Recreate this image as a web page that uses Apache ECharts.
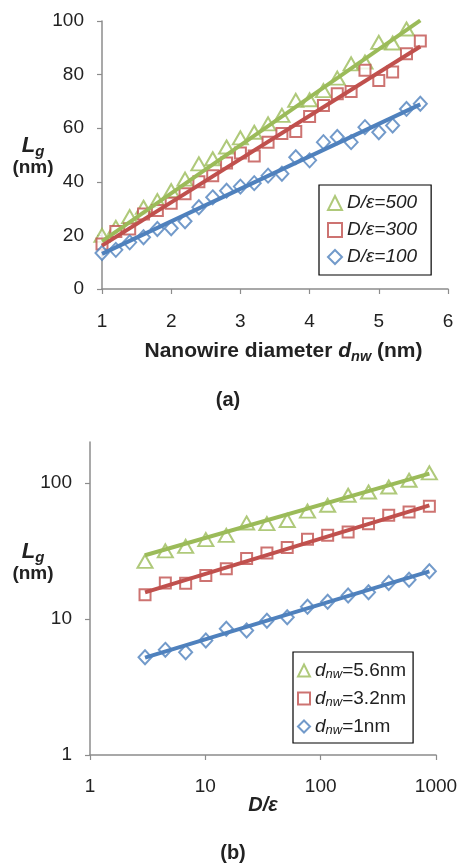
<!DOCTYPE html>
<html><head><meta charset="utf-8">
<script src="https://cdn.jsdelivr.net/npm/echarts@6/dist/echarts.min.js"></script>
<style>html,body{margin:0;padding:0;background:#fff}#c{width:460px;height:863px}</style>
</head><body><div id="c"></div>
<script>
// ---------- data (a) ----------
const dnw = [1.0,1.2,1.4,1.6,1.8,2.0,2.2,2.4,2.6,2.8,3.0,3.2,3.4,3.6,3.8,4.0,4.2,4.4,4.6,4.8,5.0,5.2,5.4,5.6];
const lgD500 = [20,23,27,30.5,33,36.7,41,46.7,48.6,53,56.4,58.5,61.6,64.8,70.4,70.6,74,78.7,84,84.7,92,91.8,97,100.5];
const lgD300 = [16.8,21.5,22.4,28,29.3,32,35.5,40,42.3,47,50.7,49.6,54.8,58,58.8,64.4,68.5,72.9,73.7,81.6,77.8,81,87.8,92.5];
const lgD100 = [13.4,14.6,17.4,19.3,22.4,22.7,25.3,30.5,34.2,36.7,38.2,39.5,42.3,43,49.2,48,54.8,56.7,54.8,60.4,58.5,61,67.2,69.1];
const fitX_a = [1, 5.6];
const fitD500 = [17.8, 100.2];
const fitD300 = [16.2, 90.5];
const fitD100 = [13.1, 68.9];
const namesA = ['D/ε=500','D/ε=300','D/ε=100'];
const xTicksA = [1,2,3,4,5,6];
const yTicksA = [0,20,40,60,80,100];

// ---------- data (b) ----------
const dEps = [3,4.5,6.75,10.1,15.2,22.8,34.2,51.3,76.9,115,173,260,389,584,876];
const lgN56 = [26.5,31.7,34.2,38.3,41.2,50.8,50.2,53,62,68.5,81.2,85.8,93.4,104.7,118.5];
const lgN32 = [15.1,18.4,18.3,20.9,23.4,27.8,30.5,33.5,38.5,41.2,43.6,50.2,57.8,61.2,67.3];
const lgN10 = [5.23,5.93,5.7,6.95,8.48,8.23,9.7,10.3,12.3,13.4,14.9,15.7,18.4,19.4,22.4];
const fitX_b = [3, 876];
const fitN56 = [29.4, 117];
const fitN32 = [15.7, 68.5];
const fitN10 = [5.2, 22.4];
const namesB = ['dnw=5.6nm','dnw=3.2nm','dnw=1nm'];
const labelsB = ['5.6nm','3.2nm','1nm'];
const xTicksB = [1,10,100,1000];
const yTicksB = [1,10,100];

const GREEN = '#9BBB59', RED = '#C0504D', BLUE = '#4F81BD';
const FONT = '"Liberation Sans", Arial, sans-serif';
const AX = '#8c8c8c', TXT = '#222';

const zip = (xs, ys) => xs.map((x, i) => [x, ys[i]]);

const axisCommon = {
  axisLine: { onZero: false, lineStyle: { color: AX, width: 1.5 } },
  axisTick: { show: true, length: 5, lineStyle: { color: AX, width: 1.2 } },
  splitLine: { show: false },
  minorTick: { show: false },
  nameMoveOverlap: false
};
const lblStyle = { fontSize: 19, color: TXT, fontFamily: FONT };

const lgRich = {
  L: { fontSize: 22, fontWeight: 'bold', fontStyle: 'italic', fontFamily: FONT, color: TXT, lineHeight: 26, align: 'center' },
  g: { fontSize: 15, fontWeight: 'bold', fontStyle: 'italic', fontFamily: FONT, color: TXT, lineHeight: 15, padding: [12,0,0,0], align: 'center' },
  u: { fontSize: 19, fontWeight: 'bold', fontFamily: FONT, color: TXT, lineHeight: 18, align: 'center' }
};

function scatter(name, xi, xs, ys, sym, size, color) {
  return { type: 'scatter', name, xAxisIndex: xi, yAxisIndex: xi, data: zip(xs, ys),
    symbol: sym, symbolSize: size, itemStyle: { color, borderColor: color, borderWidth: 1.5 }, z: 2 };
}
function fit(xi, xs, ys, color) {
  return { type: 'line', xAxisIndex: xi, yAxisIndex: xi, data: zip(xs, ys), symbol: 'none',
    lineStyle: { color, width: 4 }, z: 3, silent: true };
}

const option = {
  animation: false,
  backgroundColor: '#fff',
  grid: [
    { left: 102, top: 21, width: 346, height: 268, outerBoundsMode: 'none' },
    { left: 90, top: 442, width: 346, height: 313, outerBoundsMode: 'none' }
  ],
  xAxis: [
    Object.assign({}, axisCommon, {
      type: 'value', gridIndex: 0, min: xTicksA[0], max: xTicksA[xTicksA.length-1], interval: 1,
      axisLabel: Object.assign({ margin: 23 }, lblStyle),
      name: '{b|Nanowire diameter }{i|d}{s|nw}{b| (nm)}', nameLocation: 'middle', nameGap: 50,
      nameTextStyle: { padding: [0,0,0,17], rich: {
        b: { fontSize: 21, fontWeight: 'bold', fontFamily: FONT, color: TXT, lineHeight: 24 },
        i: { fontSize: 21, fontWeight: 'bold', fontStyle: 'italic', fontFamily: FONT, color: TXT, lineHeight: 24 },
        s: { fontSize: 14.5, fontWeight: 'bold', fontStyle: 'italic', fontFamily: FONT, color: TXT, lineHeight: 14, padding: [12,0,0,0] }
      } }
    }),
    Object.assign({}, axisCommon, {
      type: 'log', logBase: 10, gridIndex: 1, min: 1, max: 1000,
      axisTick: { show: true, length: 5, lineStyle: { color: AX, width: 1.2 }, customValues: xTicksB },
      axisLabel: Object.assign({ margin: 22, customValues: xTicksB, formatter: v => String(v) }, lblStyle),
      name: '{i|D/ε}', nameLocation: 'middle', nameGap: 40,
      nameTextStyle: { rich: {
        i: { fontSize: 20, fontWeight: 'bold', fontStyle: 'italic', fontFamily: FONT, color: TXT }
      } }
    })
  ],
  yAxis: [
    Object.assign({}, axisCommon, {
      type: 'value', gridIndex: 0, min: yTicksA[0], max: yTicksA[yTicksA.length-1], interval: 20,
      axisLabel: Object.assign({ margin: 18 }, lblStyle),
      name: '{L|L}{g|g}\n{u|(nm)}', nameLocation: 'middle', nameRotate: 0, nameGap: 69,
      nameTextStyle: { align: 'center', verticalAlign: 'middle', rich: lgRich }
    }),
    Object.assign({}, axisCommon, {
      type: 'log', logBase: 10, gridIndex: 1, min: 1, max: 200,
      axisTick: { show: true, length: 5, lineStyle: { color: AX, width: 1.2 }, customValues: yTicksB },
      axisLabel: Object.assign({ margin: 18, customValues: yTicksB, formatter: v => String(v) }, lblStyle),
      name: '{L|L}{g|g}\n{u|(nm)}', nameLocation: 'middle', nameRotate: 0, nameGap: 57,
      nameTextStyle: { align: 'center', verticalAlign: 'middle', padding: [0,0,76,0], rich: lgRich }
    })
  ],
  legend: [
    { data: namesA, left: 319, top: 185, orient: 'vertical', itemWidth: 14, itemHeight: 14, itemGap: 7,
      padding: [8,14,8,8], borderColor: '#000', borderWidth: 1.2, backgroundColor: '#fff',
      textStyle: { fontFamily: FONT, fontSize: 19, fontStyle: 'italic', color: TXT, lineHeight: 20 } },
    { data: namesB, left: 293, top: 652, orient: 'vertical', itemWidth: 12, itemHeight: 12, itemGap: 7,
      padding: [8,7,6,4], borderColor: '#000', borderWidth: 1.2, backgroundColor: '#fff',
      formatter: function (n) { const k = namesB.indexOf(n); return '{i|d}{s|nw}{n|=' + labelsB[k] + '}'; },
      textStyle: { fontFamily: FONT, fontSize: 19, color: TXT, rich: {
        i: { fontSize: 19, fontStyle: 'italic', fontFamily: FONT, color: TXT, lineHeight: 20 },
        s: { fontSize: 13, fontStyle: 'italic', fontFamily: FONT, color: TXT, lineHeight: 12, padding: [8,0,0,0] },
        n: { fontSize: 19, fontFamily: FONT, color: TXT, lineHeight: 20 }
      } } }
  ],
  graphic: [
    { type: 'text', x: 228, y: 400, style: { text: '(a)', font: 'bold 20px ' + FONT, fill: TXT, align: 'center', verticalAlign: 'middle' } },
    { type: 'text', x: 233, y: 853, style: { text: '(b)', font: 'bold 20px ' + FONT, fill: TXT, align: 'center', verticalAlign: 'middle' } }
  ],
  series: [
    scatter(namesA[0], 0, dnw, lgD500, 'emptyTriangle', [15,13], GREEN),
    scatter(namesA[1], 0, dnw, lgD300, 'emptyRect', 11, RED),
    scatter(namesA[2], 0, dnw, lgD100, 'emptyDiamond', [13,14], BLUE),
    fit(0, fitX_a, fitD500, GREEN),
    fit(0, fitX_a, fitD300, RED),
    fit(0, fitX_a, fitD100, BLUE),
    scatter(namesB[0], 1, dEps, lgN56, 'emptyTriangle', [15,13], GREEN),
    scatter(namesB[1], 1, dEps, lgN32, 'emptyRect', 11, RED),
    scatter(namesB[2], 1, dEps, lgN10, 'emptyDiamond', [13,14], BLUE),
    fit(1, fitX_b, fitN56, GREEN),
    fit(1, fitX_b, fitN32, RED),
    fit(1, fitX_b, fitN10, BLUE)
  ]
};
echarts.init(document.getElementById('c'), null, { renderer: 'canvas' }).setOption(option);
</script>
</body></html>
